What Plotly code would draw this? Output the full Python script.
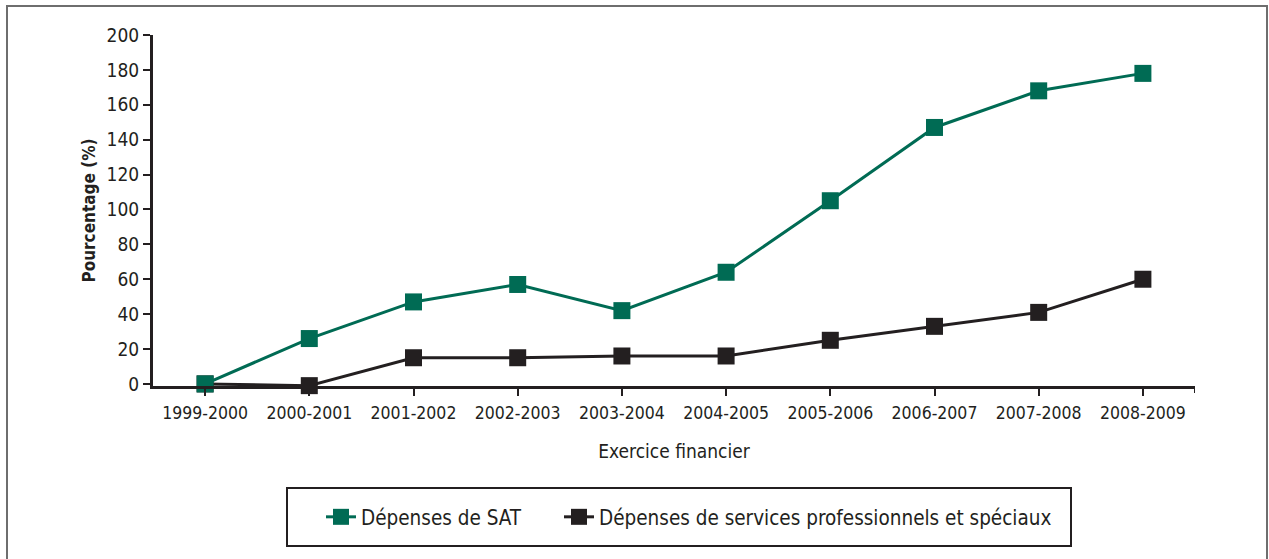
import plotly.graph_objects as go

# Exercices financiers et variations cumulées (%)
exercices = ["1999-2000", "2000-2001", "2001-2002", "2002-2003", "2003-2004",
             "2004-2005", "2005-2006", "2006-2007", "2007-2008", "2008-2009"]
depenses_sat = [0, 26, 47, 57, 42, 64, 105, 147, 168, 178]
depenses_services = [0, -1, 15, 15, 16, 16, 25, 33, 41, 60]
y_ticks = [0, 20, 40, 60, 80, 100, 120, 140, 160, 180, 200]

FONT = "DejaVu Sans Condensed, Liberation Sans Narrow, sans-serif"
GREEN = "#006B54"
DARK = "#231F20"

W, H = 1269, 559
Y_MIN, Y_MAX = -1.2, 200
xpos = list(range(len(exercices)))

fig = go.Figure()
# services line drawn first so the SAT markers sit on top
fig.add_trace(go.Scatter(
    x=xpos, y=depenses_services,
    name="Dépenses de services professionnels et spéciaux",
    mode="lines+markers",
    line=dict(color=DARK, width=3),
    marker=dict(symbol="square", size=17, color=DARK),
    cliponaxis=False, legend="legend2",
))
fig.add_trace(go.Scatter(
    x=xpos, y=depenses_sat, name="Dépenses de SAT",
    mode="lines+markers",
    line=dict(color=GREEN, width=3),
    marker=dict(symbol="square", size=17, color=GREEN),
    cliponaxis=False, legend="legend",
))

legend_common = dict(
    orientation="h", xref="container", yref="container",
    yanchor="middle", y=(H - 517) / H,
    borderwidth=0, bgcolor="rgba(0,0,0,0)",
    font=dict(family=FONT, size=20.5, color=DARK),
)

fig.update_layout(
    width=W, height=H,
    margin=dict(l=153, r=74, t=35, b=173),
    paper_bgcolor="white", plot_bgcolor="white",
    font=dict(family=FONT, size=18, color=DARK),
    showlegend=True,
    legend=dict(x=321 / W, xanchor="left", **legend_common),
    legend2=dict(x=559 / W, xanchor="left", **legend_common),
)

fig.update_xaxes(
    range=[-0.5, 9.5],
    tickmode="array", tickvals=xpos, ticktext=exercices,
    showgrid=False, zeroline=False,
    showline=True, linecolor=DARK, linewidth=3,
    ticks="outside", ticklen=7, tickwidth=2, tickcolor=DARK,
    ticklabelstandoff=2,
    tickfont=dict(family=FONT, size=17.5, color=DARK),
    title=dict(text="Exercice financier", font=dict(family=FONT, size=19, color=DARK), standoff=23),
)
fig.update_yaxes(
    range=[Y_MIN, Y_MAX],
    tickmode="array", tickvals=y_ticks,
    showgrid=False, zeroline=False,
    showline=True, linecolor=DARK, linewidth=3,
    ticks="outside", ticklen=7, tickwidth=2, tickcolor=DARK,
    tickfont=dict(family=FONT, size=19, color=DARK),
    title=dict(text="<b>Pourcentage (%)</b>", font=dict(family=FONT, size=17, color=DARK), standoff=7),
)

PX0, PW = 153, W - 153 - 74
PY0, PH = H - 173, H - 35 - 173


def px_x(v):
    return (v - PX0) / PW


def px_y(v):
    return (PY0 - v) / PH


# closing tick at the right end of the category axis
fig.add_shape(type="line", xref="x", yref="paper", x0=9.5, x1=9.5, y0=0, y1=px_y(PY0 + 7),
              line=dict(color=DARK, width=2))

# box around the two legend entries
fig.add_shape(type="rect", xref="paper", yref="paper",
              x0=px_x(287), x1=px_x(1071), y0=px_y(488), y1=px_y(546),
              line=dict(color=DARK, width=2))

# frame around the whole figure
fig.add_shape(type="rect", xref="paper", yref="paper",
              x0=px_x(7), x1=px_x(1267), y0=px_y(6), y1=px_y(580),
              line=dict(color="#6E6E6E", width=2), layer="below")

fig.write_html("out.html")
